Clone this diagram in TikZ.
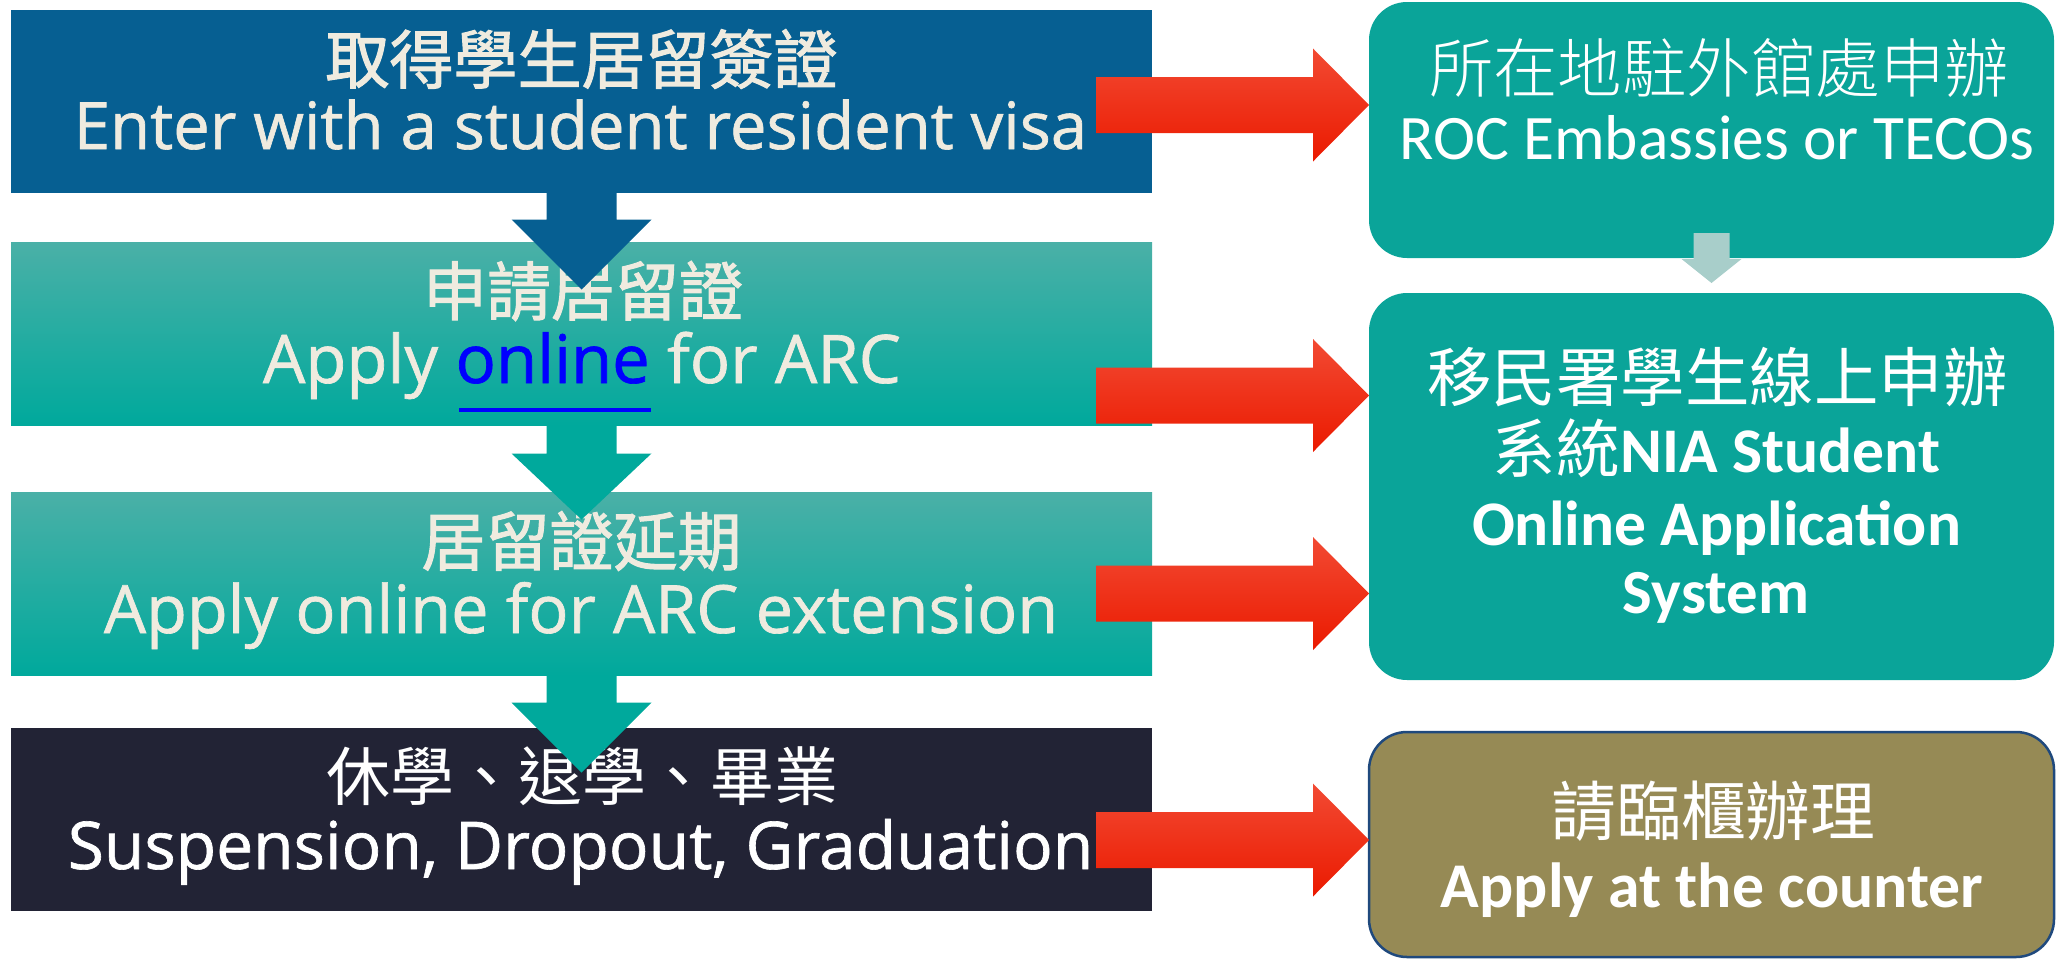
\documentclass[tikz,border=0pt]{standalone}
\usepackage{fontspec}
\usepackage{graphicx}
\usetikzlibrary{calc}
\newfontfamily\cjk{Noto Sans CJK TC}
\newfontfamily\cjkm{Noto Sans CJK TC}[FakeBold=1.6]
\IfFontExistsTF{Noto Sans CJK TC Light}
  {\newfontfamily\cjkl{Noto Sans CJK TC Light}}
  {\newfontfamily\cjkl{Noto Sans CJK TC}}
\newfontfamily\latn{Open Sans}[FakeBold=1]
\newfontfamily\calib{Carlito}
\definecolor{bluebox}{HTML}{065F92}
\definecolor{tealtop}{HTML}{4AB0A7}
\definecolor{tealbot}{HTML}{00A99C}
\definecolor{darkbox}{HTML}{222335}
\definecolor{rteal}{HTML}{0AA499}
\definecolor{olive}{HTML}{968A55}
\definecolor{olivebd}{HTML}{1F497D}
\definecolor{cream}{HTML}{EFEBDF}
\definecolor{lightarr}{HTML}{A8CECA}
\definecolor{redtop}{HTML}{F24A33}
\definecolor{redbot}{HTML}{EB1A00}
\definecolor{linkblue}{HTML}{0000FF}
\newcommand\blockdown[6]{\path[#1] let \p1=(#2), \p2=(#3) in
  (\x1-#4pt,\y1) -- (\x1+#4pt,\y1) -- (\x1+#4pt,\y2+#6pt) -- (\x1+#5pt,\y2+#6pt)
  -- (\x1,\y2) -- (\x1-#5pt,\y2+#6pt) -- (\x1-#4pt,\y2+#6pt) -- cycle;}
\newcommand\blockright[2]{\path[redarr] let \p1=(#1), \p2=(#2) in
  (\x1,\y1+28pt) -- (\x2-56pt,\y1+28pt) -- (\x2-56pt,\y1+56.5pt) -- (\x2,\y1)
  -- (\x2-56pt,\y1-56.5pt) -- (\x2-56pt,\y1-28pt) -- (\x1,\y1-28pt) -- cycle;}
\begin{document}
\begin{tikzpicture}[x=1pt,y=-1pt,
  box/.style={inner sep=0pt, outer sep=0pt, minimum width=1141pt, minimum height=183pt},
  rbox/.style={inner sep=0pt, outer sep=0pt, minimum width=685pt, rounded corners=38pt},
  txt/.style={inner sep=0pt, outer sep=0pt},
  redarr/.style={top color=redtop, bottom color=redbot},
]
\useasboundingbox (0,0) rectangle (2056,959);
% left boxes
\node[box, fill=bluebox] (b1) at (581.5,101) {};
\node[box, top color=tealtop, bottom color=tealbot] (b2) at (581.5,334) {};
\node[box, top color=tealtop, bottom color=tealbot] (b3) at (581.5,584) {};
\node[box, fill=darkbox] (b4) at (581.5,819.5) {};
% right boxes
\node[rbox, fill=rteal, minimum height=256pt] (r1) at (1711.5,130) {};
\node[rbox, fill=rteal, minimum height=387pt] (r2) at (1711.5,486.5) {};
\node[rbox, fill=olive, draw=olivebd, line width=2.5pt, minimum height=225pt] (r3) at (1711.5,844.5) {};
% texts left
\node[txt, text=cream] (t1a) at (581.5,59) {\resizebox{512pt}{!}{\cjkm 取得學生居留簽證}};
\node[txt, text=cream, anchor=base] (t1b) at (580.5,149) {\resizebox{1013pt}{!}{\latn Enter with a student resident visa}};
\node[txt, text=cream] (t2a) at (583,291) {\resizebox{320pt}{!}{\cjkm 申請居留證}};
\node[txt, text=cream, anchor=base] (t2b) at (582,383) {\resizebox{638pt}{!}{\latn Apply \textcolor{linkblue}{online} for ARC}};
\draw[linkblue, line width=3.5pt] (459,410) -- (651,410);
\node[txt, text=cream] (t3a) at (581.5,541) {\resizebox{320pt}{!}{\cjkm 居留證延期}};
\node[txt, text=cream, anchor=base] (t3b) at (581,633) {\resizebox{954pt}{!}{\latn Apply online for ARC extension}};
\node[txt, text=white] (t4a) at (582.5,776.5) {\resizebox{512pt}{!}{\cjk 休學、退學、畢業}};
\node[txt, text=white, anchor=base] (t4b) at (580.5,869) {\resizebox{1025pt}{!}{\latn Suspension, Dropout, Graduation}};
% texts right
\node[txt, text=white] (u1a) at (1719,68.5) {\resizebox{580pt}{!}{\cjkl 所在地駐外館處申辦}};
\node[txt, text=white, anchor=base] (u1b) at (1717,159) {\resizebox{635pt}{!}{\calib ROC Embassies or TECOs}};
\node[txt, text=white] (u2a) at (1717.5,377.5) {\resizebox{580pt}{!}{\cjk 移民署學生線上申辦}};
\node[txt, text=white, anchor=base] (u2b) at (1716.5,472) {\resizebox{447pt}{!}{{\cjk 系統}{\calib\bfseries NIA Student}}};
\node[txt, text=white, anchor=base] (u2c) at (1716.5,545) {\resizebox{489pt}{!}{\calib\bfseries Online Application}};
\node[txt, text=white, anchor=base] (u2d) at (1716,613) {\resizebox{186pt}{!}{\calib\bfseries System}};
\node[txt, text=white] (u3a) at (1713.5,811) {\resizebox{324pt}{!}{\cjk 請臨櫃辦理}};
\node[txt, text=white, anchor=base] (u3b) at (1712,907) {\resizebox{542pt}{!}{\calib\bfseries Apply at the counter}};
% down arrows
\coordinate (d1) at ($(b1.south)+(0,97)$);
\coordinate (d2) at ($(b2.south)+(0,94)$);
\coordinate (d3) at ($(b3.south)+(0,97)$);
\blockdown{fill=bluebox}{b1.south}{d1}{35}{70}{70}
\blockdown{fill=tealbot}{b2.south}{d2}{35}{70}{66}
\blockdown{fill=tealbot}{b3.south}{d3}{35}{70}{70}
\coordinate (m0) at ($(r1.south)+(0,-25)$);
\coordinate (m1) at ($(r2.north)+(0,-10)$);
\blockdown{fill=lightarr}{m0}{m1}{18}{30}{24}
% red arrows
\coordinate (s1) at (1096,105);
\coordinate (s2) at (1096,395.5);
\coordinate (s3) at (1096,593.5);
\coordinate (s4) at (1096,840);
\blockright{s1}{r1.west |- s1}
\blockright{s2}{r2.west |- s2}
\blockright{s3}{r2.west |- s3}
\blockright{s4}{r3.west |- s4}
\end{tikzpicture}
\end{document}
